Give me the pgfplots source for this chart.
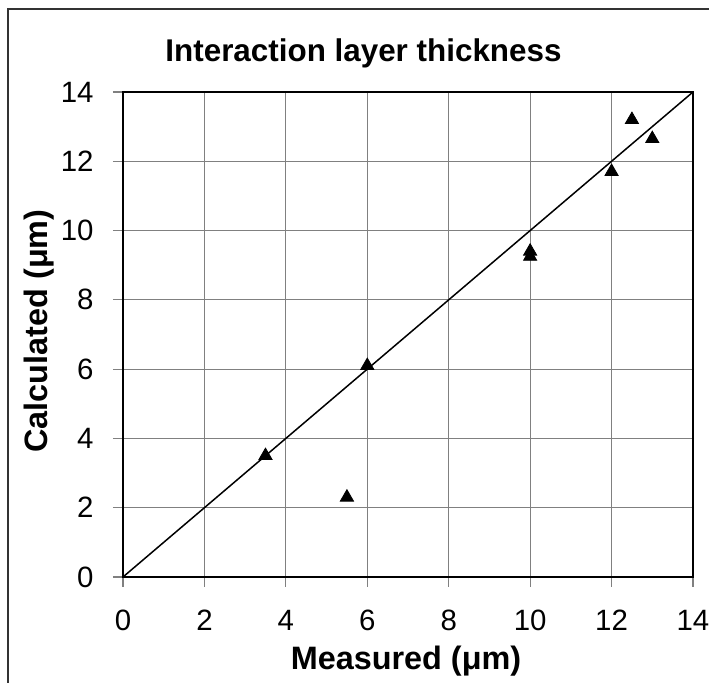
\documentclass[border=0pt]{standalone}
\usepackage{pgfplots}
\pgfplotsset{compat=1.18}
\usepackage{fontspec}
\setmainfont{Liberation Sans}
\begin{document}
\begin{tikzpicture}
\useasboundingbox (0,0) rectangle (354.5pt,341.5pt);
\draw[line width=1pt, black!80] (4pt,-10pt) rectangle (370pt,337pt);
\begin{axis}[
  at={(61.5pt,53pt)}, anchor=south west,
  scale only axis, width=285pt, height=242.5pt,
  xmin=0, xmax=14, ymin=0, ymax=14,
  xtick={0,2,...,14}, ytick={0,2,...,14},
  xtick pos=bottom, ytick pos=left,
  grid=major,
  major grid style={gray, line width=0.5pt},
  axis line style={black, line width=1pt},
  tick align=outside,
  major tick length=5pt,
  tick style={gray, line width=0.6pt},
  /pgf/number format/assume math mode=true,
  tick label style={font=\fontsize{14.7}{16}\selectfont},
  xticklabel style={anchor=center, yshift=-16.5pt},
  yticklabel style={anchor=east, inner sep=0pt, xshift=-9.5pt},
  clip=false,
]
\addplot[black, line width=0.75pt, no marks] coordinates {(0,0) (14,14)};
\addplot[only marks, mark=triangle*, mark size=3.8pt, black] coordinates {
(3.5,3.5) (5.5,2.3) (6,6.1) (10,9.4) (10,9.25) (12,11.7) (12.5,13.2) (13,12.65)
};
\end{axis}
\node[font=\bfseries\fontsize{15.7}{18}\selectfont] at (181.75pt,315pt) {Interaction layer thickness};
\node[font=\bfseries\fontsize{16.2}{18}\selectfont] at (203pt,11pt) {Measured (μm)};
\node[font=\bfseries\fontsize{16.2}{18}\selectfont, rotate=90] at (19.5pt,176pt) {Calculated (μm)};
\end{tikzpicture}
\end{document}
